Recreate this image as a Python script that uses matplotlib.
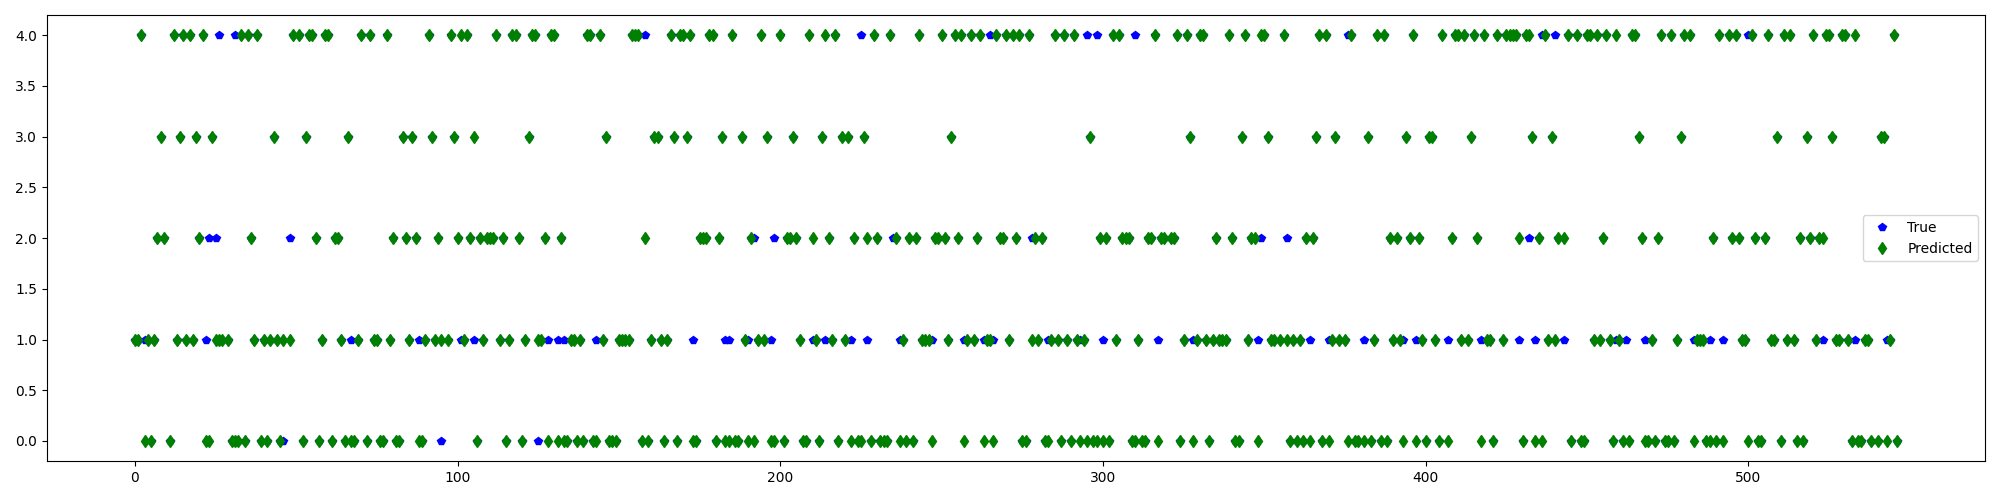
import matplotlib
matplotlib.use("Agg")
import matplotlib.pyplot as plt

# sample indices where the model predicted each class
pred_0 = [3, 5, 11, 22, 23, 30, 31, 32, 34, 39, 41, 45, 52, 57, 61, 65, 67, 68, 72, 76,
          77, 81, 82, 88, 89, 106, 115, 120, 128, 131, 133, 134, 137, 139, 142, 143,
          147, 148, 149, 157, 159, 164, 168, 173, 174, 180, 183, 184, 186, 187, 190, 192,
          197, 198, 201, 207, 208, 212, 218, 222, 224, 225, 228, 231, 232, 233, 237, 239,
          241, 247, 257, 263, 266, 275, 276, 282, 283, 287, 290, 293, 295, 297, 298, 300,
          302, 309, 310, 312, 313, 317, 321, 324, 328, 333, 341, 342, 348, 358, 360, 362,
          364, 368, 370, 376, 378, 379, 381, 383, 386, 388, 393, 397, 400, 404, 407, 417,
          421, 430, 434, 436, 445, 448, 449, 458, 461, 463, 468, 469, 471, 474, 475, 477,
          483, 487, 488, 490, 492, 494, 500, 503, 504, 510, 515, 517, 532, 534, 535, 538,
          540, 543, 546]
pred_1 = [0, 1, 4, 6, 13, 16, 18, 25, 26, 27, 29, 37, 40, 42, 44, 46, 48, 58, 64, 69,
          74, 75, 79, 85, 90, 93, 95, 97, 102, 108, 113, 116, 121, 125, 126, 135, 136, 138,
          145, 150, 151, 152, 153, 160, 163, 165, 189, 193, 195, 206, 211, 216, 220, 234,
          238, 244, 245, 246, 252, 258, 260, 264, 265, 271, 278, 280, 284, 286, 289, 292,
          294, 304, 311, 325, 329, 332, 334, 336, 337, 338, 345, 352, 353, 355, 357, 359,
          361, 371, 373, 375, 384, 390, 392, 399, 403, 411, 413, 419, 420, 424, 438, 440,
          452, 454, 457, 460, 470, 478, 484, 485, 486, 498, 499, 507, 508, 512, 514, 521,
          527, 528, 531, 536, 537, 544]
pred_2 = [7, 9, 20, 36, 56, 62, 63, 80, 84, 87, 94, 100, 104, 107, 109, 110, 111, 114,
          119, 127, 132, 158, 175, 176, 177, 181, 191, 202, 203, 205, 210, 215, 223, 227,
          230, 236, 240, 242, 248, 249, 251, 255, 261, 268, 269, 273, 279, 281, 299, 301,
          306, 307, 308, 314, 315, 318, 319, 321, 322, 335, 340, 346, 347, 363, 365, 389,
          391, 395, 398, 408, 416, 429, 435, 441, 443, 455, 467, 472, 489, 495, 497, 502,
          505, 516, 519, 522, 523]
pred_3 = [8, 14, 19, 24, 43, 53, 66, 83, 86, 92, 99, 105, 122, 146, 161, 162, 167, 171,
          182, 188, 196, 204, 213, 219, 221, 226, 253, 296, 327, 343, 351, 366, 372, 382,
          394, 401, 402, 414, 433, 439, 466, 479, 509, 518, 526, 541, 542]
pred_4 = [2, 12, 15, 17, 21, 33, 35, 38, 49, 51, 54, 55, 59, 60, 70, 73, 78, 91, 98, 101,
          103, 112, 117, 118, 123, 124, 129, 130, 140, 141, 144, 154, 155, 156, 166, 169,
          170, 172, 178, 179, 185, 194, 200, 209, 214, 217, 229, 234, 243, 250, 254, 256,
          259, 262, 267, 270, 272, 274, 277, 285, 288, 291, 303, 305, 316, 323, 326, 330,
          331, 339, 344, 349, 350, 356, 367, 369, 377, 385, 387, 396, 405, 409, 410, 412,
          415, 418, 422, 425, 426, 427, 428, 431, 432, 437, 444, 447, 450, 451, 453, 456,
          459, 464, 465, 473, 476, 480, 482, 491, 494, 496, 501, 506, 511, 513, 520, 524,
          525, 529, 530, 533, 545]

# indices where the true label differs from the prediction (visible blue points)
wrong_true_0 = [46, 95, 125]
wrong_true_1 = [3, 22, 67, 88, 101, 105, 128, 131, 133, 143, 173, 183, 184, 190, 197,
                210, 214, 222, 227, 237, 247, 257, 263, 266, 283, 293, 300, 317, 328, 348,
                364, 370, 381, 393, 397, 407, 417, 429, 434, 443, 459, 462, 468, 483, 488,
                492, 523, 533, 543]
wrong_true_2 = [23, 25, 48, 192, 198, 235, 278, 349, 357, 432]
wrong_true_4 = [26, 31, 158, 225, 265, 295, 298, 310, 376, 436, 440, 500]

# build predicted / true series
y_pred = {}
for cls, idx in enumerate([pred_0, pred_1, pred_2, pred_3, pred_4]):
    for i in idx:
        y_pred[i] = cls

y_true = dict(y_pred)
for cls, idx in [(0, wrong_true_0), (1, wrong_true_1), (2, wrong_true_2), (4, wrong_true_4)]:
    for i in idx:
        y_true[i] = cls

x_true = sorted(y_true)
x_pred = sorted(y_pred)

plt.figure(figsize=(20, 5), dpi=100)
plt.plot(x_true, [y_true[i] for i in x_true], 'bp', label='True')
plt.plot(x_pred, [y_pred[i] for i in x_pred], 'gd', label='Predicted')
plt.legend(loc='center right')
plt.tight_layout()
plt.savefig('out.png')
